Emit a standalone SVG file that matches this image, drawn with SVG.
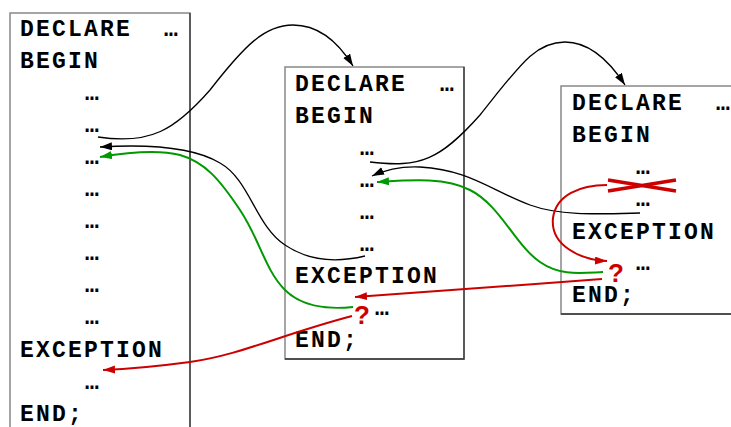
<svg xmlns="http://www.w3.org/2000/svg" width="731" height="427" viewBox="0 0 731 427">
<style>
.box{fill:#fff;stroke:#888;stroke-width:1.5}
.edge{stroke:#333;stroke-width:1.3;fill:none}
.t{font-family:"Courier New","Liberation Mono",monospace;font-weight:bold;font-size:23px;letter-spacing:2.2px;fill:#000}
.q{font-family:"Liberation Sans",Arial,sans-serif;font-weight:bold;font-size:26px;fill:#c00}
.k{fill:none;stroke:#000;stroke-width:1.3}
.g{fill:none;stroke:#009900;stroke-width:2}
.r{fill:none;stroke:#cc0000;stroke-width:2}
</style>
<defs>
<marker id="ak" markerUnits="userSpaceOnUse" markerWidth="13" markerHeight="9" refX="12" refY="4" orient="auto"><path d="M0,0 L12,4 L0,8 z" fill="#000"/></marker>
<marker id="ag" markerUnits="userSpaceOnUse" markerWidth="13" markerHeight="9" refX="12" refY="4" orient="auto"><path d="M0,0 L12,4 L0,8 z" fill="#009900"/></marker>
<marker id="ar" markerUnits="userSpaceOnUse" markerWidth="13" markerHeight="9" refX="12" refY="4" orient="auto"><path d="M0,0 L12,4 L0,8 z" fill="#cc0000"/></marker>
</defs>
<rect width="731" height="427" fill="#fff"/>
<g id="block1">
<rect class="box" x="10" y="13" width="180" height="430"/>
<line class="edge" x1="190" y1="13" x2="190" y2="427"/>
<text class="t" x="20" y="36">DECLARE</text><text class="t" x="164" y="36">…</text>
<text class="t" x="20" y="68">BEGIN</text>
<text class="t" x="85" y="100">…</text>
<text class="t" x="85" y="132">…</text>
<text class="t" x="85" y="164">…</text>
<text class="t" x="85" y="196">…</text>
<text class="t" x="85" y="228">…</text>
<text class="t" x="85" y="260">…</text>
<text class="t" x="85" y="292">…</text>
<text class="t" x="85" y="324">…</text>
<text class="t" x="20" y="357">EXCEPTION</text>
<text class="t" x="85" y="389">…</text>
<text class="t" x="20" y="421">END;</text>
</g>
<g id="block2">
<rect class="box" x="285" y="67" width="179" height="292"/>
<polyline class="edge" points="464,67 464,359 285,359"/>
<text class="t" x="295" y="91">DECLARE</text><text class="t" x="440" y="91">…</text>
<text class="t" x="295" y="123">BEGIN</text>
<text class="t" x="360" y="155">…</text>
<text class="t" x="360" y="187">…</text>
<text class="t" x="360" y="219">…</text>
<text class="t" x="360" y="251">…</text>
<text class="t" x="295" y="283">EXCEPTION</text>
<text class="q" x="354" y="324">?</text><text class="t" x="375" y="315">…</text>
<text class="t" x="295" y="347">END;</text>
</g>
<g id="block3">
<rect class="box" x="561" y="86" width="180" height="228"/>
<line class="edge" x1="561" y1="314" x2="731" y2="314"/>
<text class="t" x="572" y="110">DECLARE</text><text class="t" x="716" y="110">…</text>
<text class="t" x="572" y="142">BEGIN</text>
<text class="t" x="636" y="174">…</text>
<g id="cross"><path d="M608,180 L676,191 M608,191 L676,180" stroke="#cc0000" stroke-width="3.5" fill="none"/></g>
<text class="t" x="636" y="206">…</text>
<text class="t" x="572" y="239">EXCEPTION</text>
<text class="q" x="608" y="282">?</text><text class="t" x="636" y="270">…</text>
<text class="t" x="572" y="302">END;</text>
</g>
<g id="connectors">
<path class="k" d="M98,137 C150,145 175,130 210,90 C245,45 265,25 293,25 C320,25 340,45 353,66" marker-end="url(#ak)"/>
<path class="k" d="M370,162 C420,168 440,160 480,115 C520,65 535,42 565,42 C590,42 610,62 625,85" marker-end="url(#ak)"/>
<path class="k" d="M640,213 C600,214 560,216 530,205 C490,190 470,170 420,167 C400,166 385,170 372,176" marker-end="url(#ak)"/>
<path class="k" d="M365,256 C340,262 310,262 285,245 C255,225 250,180 220,163 C195,148 150,144 100,147" marker-end="url(#ak)"/>
<path class="g" d="M603,272 C580,273 560,276 540,262 C515,245 500,205 470,190 C445,177 410,180 377,182" marker-end="url(#ag)"/>
<path class="g" d="M353,307 C325,310 300,305 285,290 C265,270 260,240 240,210 C220,180 205,162 180,155 C160,150 130,152 100,157" marker-end="url(#ag)"/>
<path class="r" d="M607,185 C580,185 556,195 553,218 C550,245 580,260 607,261" marker-end="url(#ar)"/>
<path class="r" d="M602,279 C520,285 440,291 355,297" marker-end="url(#ar)"/>
<path class="r" d="M352,316 C280,335 240,355 190,362 C160,366 130,369 103,370" marker-end="url(#ar)"/>
</g>
</svg>
